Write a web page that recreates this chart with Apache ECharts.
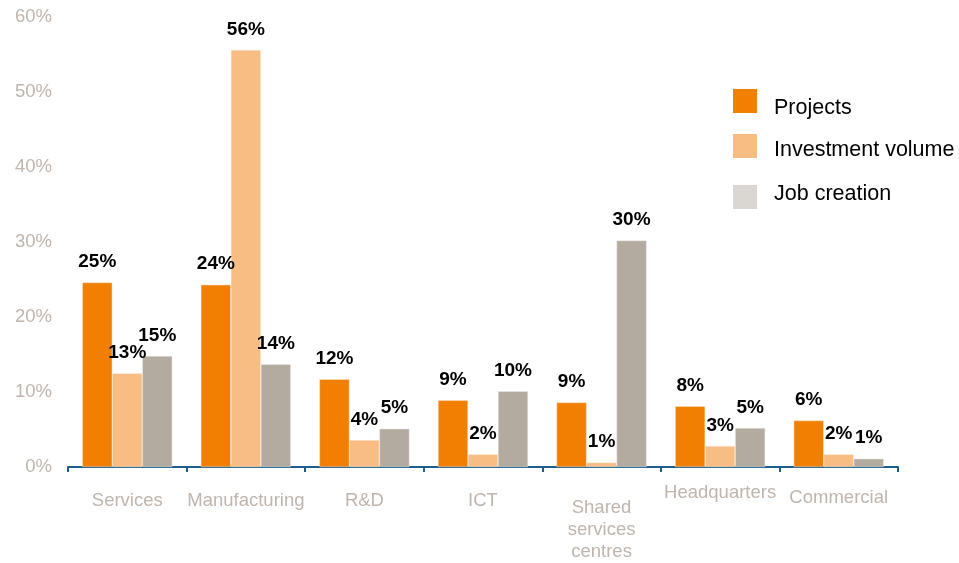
<!DOCTYPE html>
<html><head><meta charset="utf-8">
<script src="https://cdn.jsdelivr.net/npm/echarts@6/dist/echarts.min.js"></script>
<style>html,body{margin:0;padding:0;background:#fff}#c{width:959px;height:563px}</style>
</head><body><div id="c"></div>
<script>
const categories = ['Services','Manufacturing','R&D','ICT','Shared\nservices\ncentres','Headquarters','Commercial'];
const projects = [24.6, 24.3, 11.7, 8.9, 8.6, 8.1, 6.2];
const investment = [12.5, 55.6, 3.6, 1.7, 0.6, 2.8, 1.7];
const jobs = [14.8, 13.7, 5.1, 10.1, 30.2, 5.2, 1.1];
const seriesNames = ['Projects','Investment volume','Job creation'];
const yTicks = [0,10,20,30,40,50,60];

const FONT = '"Liberation Sans", Arial, sans-serif';
const axisGray = '#BFB5AD';
const labelOpt = {show:true, position:'top', distance:11, color:'#000', fontWeight:'bold', fontSize:19, fontFamily:FONT,
  formatter: p => Math.round(p.value) + '%'};

const padTop = {'Headquarters':1, 'Commercial':6};
const catData = categories.map(c => {
  if (c.startsWith('Shared')) return {value:c, textStyle:{padding:[16,0,0,0], lineHeight:22}};
  const p = (c in padTop) ? padTop[c] : 9;
  return {value:c, textStyle:{padding:[p,0,0,0]}};
});

// legend icons: a 24px square placed inside a taller invisible box so the text sits where it does in the reference
const iconTop = h => 'path://M0,0L24,0L24,24L0,24Z M0,' + h + 'L24,' + h;
const iconBottom = h => 'path://M0,0L24,0 M0,' + (h-24) + 'L24,' + (h-24) + 'L24,' + h + 'L0,' + h + 'Z';

const legendBase = {orient:'vertical', left:733, itemWidth:24, padding:0,
  textStyle:{fontSize:21.5, fontFamily:FONT, color:'#000', padding:[0,0,0,12]}};

const chart = echarts.init(document.getElementById('c'));
chart.setOption({
  animation:false,
  grid:{left:68, right:61, top:17, bottom:95},
  legend:[
    Object.assign({}, legendBase, {top:89, itemHeight:38,
      data:[{name:seriesNames[0], icon:iconTop(38), itemStyle:{borderWidth:0}}]}),
    Object.assign({}, legendBase, {top:134, itemHeight:32,
      data:[{name:seriesNames[1], icon:iconTop(32), itemStyle:{borderWidth:0}}]}),
    Object.assign({}, legendBase, {top:179, itemHeight:30,
      data:[{name:seriesNames[2], icon:iconBottom(30), itemStyle:{color:'#DAD6D2', borderWidth:0}}]})
  ],
  xAxis:{
    type:'category', data:catData,
    axisLine:{lineStyle:{color:'#1B5E8C', width:2}},
    axisTick:{show:true, length:5, lineStyle:{color:'#1B5E8C', width:2}},
    axisLabel:{color:axisGray, fontSize:18.5, fontFamily:FONT, margin:14, interval:0, lineHeight:22}
  },
  yAxis:{
    type:'value', min:yTicks[0], max:yTicks[yTicks.length-1], interval:10,
    splitLine:{show:false}, axisLine:{show:false}, axisTick:{show:false},
    axisLabel:{color:axisGray, fontSize:18.5, fontFamily:FONT, margin:16, formatter:'{value}%'}
  },
  series:[
    {name:seriesNames[0], type:'bar', data:projects, barWidth:30, barGap:'0%', itemStyle:{color:'#F07F02', borderColor:'#FBE3CC', borderWidth:0.5}, label:labelOpt},
    {name:seriesNames[1], type:'bar', data:investment, barWidth:30, barGap:'0%', itemStyle:{color:'#F7BD82', borderColor:'#FDEFE0', borderWidth:0.5}, label:labelOpt},
    {name:seriesNames[2], type:'bar', data:jobs, barWidth:30, barGap:'0%', itemStyle:{color:'#B3AAA0', borderColor:'#ECE9E6', borderWidth:0.5}, label:labelOpt}
  ]
});
</script></body></html>
